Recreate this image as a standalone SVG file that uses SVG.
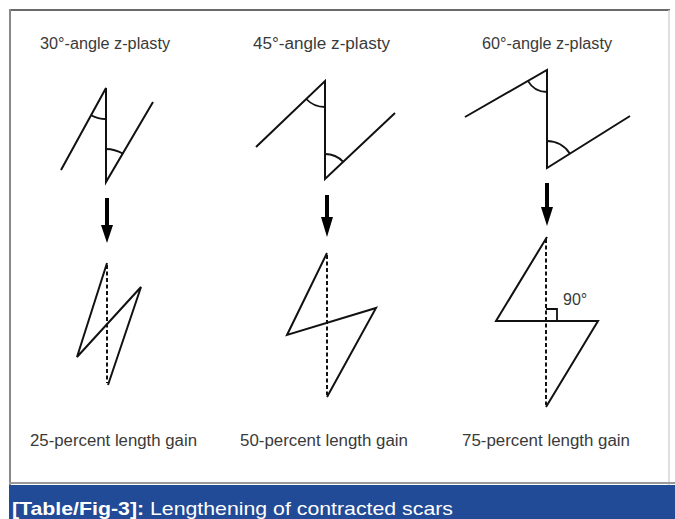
<svg xmlns="http://www.w3.org/2000/svg" width="675" height="519" viewBox="0 0 675 519">
<defs>
<style>
.ln{fill:none;stroke:#111;stroke-width:2;stroke-linejoin:miter;stroke-linecap:butt}
.arc{fill:none;stroke:#111;stroke-width:1.8}
.dash{fill:none;stroke:#111;stroke-width:2;stroke-dasharray:4 2.5}
.shaft{stroke:#000;stroke-width:4}
.head{fill:#000}
.t{font-family:"Liberation Sans",Arial,sans-serif;font-size:16px;fill:#3a3a3a}
.cap{font-family:"Liberation Sans",Arial,sans-serif;font-size:19px;fill:#fff}
</style>
</defs>
<rect x="0" y="0" width="675" height="519" fill="#fff"/>
<g id="frame">
<line x1="9" y1="10" x2="670" y2="10" stroke="#6a6a6a" stroke-width="2"/>
<line x1="10" y1="9" x2="10" y2="485" stroke="#888" stroke-width="2"/>
<line x1="669" y1="10" x2="669" y2="485" stroke="#d4d4d4" stroke-width="1.5"/>
<line x1="9" y1="483" x2="675" y2="483" stroke="#9a9a9a" stroke-width="2"/>
<rect x="9" y="485" width="666" height="34" fill="#214a97"/>
<text class="cap" x="12" y="515" textLength="441" lengthAdjust="spacingAndGlyphs"><tspan font-weight="bold">[Table/Fig-3]:</tspan> Lengthening of contracted scars</text>
</g>
<g id="titles">
<text class="t" x="40" y="49" textLength="130" lengthAdjust="spacingAndGlyphs">30°-angle z-plasty</text>
<text class="t" x="253" y="49" textLength="137" lengthAdjust="spacingAndGlyphs">45°-angle z-plasty</text>
<text class="t" x="482" y="49" textLength="130" lengthAdjust="spacingAndGlyphs">60°-angle z-plasty</text>
</g>
<g id="z30-before">
<polyline class="ln" points="61,170 106,88 106,182 153,102"/>
<path class="arc" d="M91.1,115.2 A31,31 0 0 0 106,119"/>
<path class="arc" d="M106,149 A33,33 0 0 1 122.7,153.6"/>
</g>
<g id="z45-before">
<polyline class="ln" points="256,147 325,81 325,179 395,113"/>
<path class="arc" d="M306.2,99 A26,26 0 0 0 325,107"/>
<path class="arc" d="M325,154 A25,25 0 0 1 343.2,161.8"/>
</g>
<g id="z60-before">
<polyline class="ln" points="465,117 547,70 547,168 630,116"/>
<path class="arc" d="M527.9,80.9 A22,22 0 0 0 547,92"/>
<path class="arc" d="M547,141 A27,27 0 0 1 569.9,153.7"/>
</g>
<g id="connectors">
<line class="shaft" x1="107" y1="198" x2="107" y2="228"/>
<polygon class="head" points="101,225 113,225 107,243"/>
<line class="shaft" x1="327" y1="195" x2="327" y2="220"/>
<polygon class="head" points="321,217 333,217 327,237"/>
<line class="shaft" x1="547" y1="183" x2="547" y2="210"/>
<polygon class="head" points="541,207 553,207 547,226"/>
</g>
<g id="z30-after">
<line class="dash" x1="107" y1="265" x2="107" y2="383"/>
<polyline class="ln" points="107,263 77,357 141,287 108,385"/>
</g>
<g id="z45-after">
<line class="dash" x1="327" y1="255" x2="327" y2="395"/>
<polyline class="ln" points="327,253 287,335 376,308 327,397"/>
</g>
<g id="z60-after">
<line class="dash" x1="546" y1="239" x2="546" y2="405"/>
<polyline class="ln" points="547,237 496,321 598,321 546,407"/>
<polyline class="arc" points="546,309 557,309 557,321"/>
<text class="t" x="563" y="305" font-size="14">90°</text>
</g>
<g id="gains">
<text class="t" x="30" y="446" textLength="167" lengthAdjust="spacingAndGlyphs">25-percent length gain</text>
<text class="t" x="240" y="446" textLength="168" lengthAdjust="spacingAndGlyphs">50-percent length gain</text>
<text class="t" x="462" y="446" textLength="168" lengthAdjust="spacingAndGlyphs">75-percent length gain</text>
</g>
</svg>
